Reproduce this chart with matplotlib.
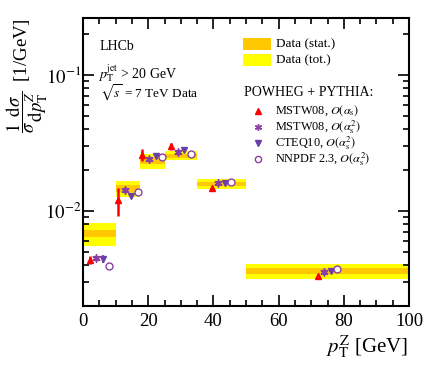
import matplotlib
matplotlib.use("Agg")
import matplotlib.pyplot as plt
import numpy as np
from matplotlib.patches import Rectangle
from matplotlib.lines import Line2D
from matplotlib.ticker import LogLocator, NullFormatter, MultipleLocator

plt.rcParams['font.family'] = ['Liberation Serif', 'DejaVu Serif']
plt.rcParams['mathtext.fontset'] = 'stix'

# ---- data ----
bin_edges = [0, 10, 17.5, 25, 35, 50, 100]
data_val = [0.0068, 0.0146, 0.0233, 0.0254, 0.0157, 0.0036]
data_stat = [0.0004, 0.0008, 0.0012, 0.0008, 0.0005, 0.00018]
data_tot = [0.0013, 0.0020, 0.0030, 0.0020, 0.0013, 0.00047]

mstw_as = [0.00436, 0.0119, 0.0258, 0.0297, 0.0147, 0.00334]
mstw_as_err = [0.0003, 0.0028, 0.0028, 0.0018, 0.0006, 0.00012]
mstw_as2 = [0.00449, 0.0141, 0.0240, 0.0268, 0.0161, 0.00358]
mstw_as2_err = [0.0002, 0.0004, 0.0006, 0.0006, 0.0004, 0.0001]
cteq = [0.00441, 0.0129, 0.0251, 0.0277, 0.0161, 0.00362]
cteq_err = [0.0003, 0.0004, 0.0006, 0.0006, 0.0004, 0.0001]
nnpdf = [0.00390, 0.0137, 0.0247, 0.0261, 0.0164, 0.00375]
nnpdf_err = [0.0001, 0.0003, 0.0004, 0.0004, 0.0003, 0.00008]

offsets = [-3, -1, 1, 3]

W, H = 432, 365
fig = plt.figure(figsize=(W / 100, H / 100), dpi=100)
ax = fig.add_axes([83 / W, 1 - 306 / H, (409 - 83) / W, (306 - 18) / H])

orange = '#FFC800'
yellow = '#FFFF00'
red = '#FF0000'
purple1 = '#8B3FA0'
purple2 = '#6A40A8'
purple3 = '#8A3FA8'

edges = np.array(bin_edges)
for i in range(len(data_val)):
    lo, hi = edges[i], edges[i + 1]
    ax.add_patch(Rectangle((lo, data_val[i] - data_tot[i]), hi - lo, 2 * data_tot[i],
                           facecolor=yellow, edgecolor='none', zorder=1))
    ax.add_patch(Rectangle((lo, data_val[i] - data_stat[i]), hi - lo, 2 * data_stat[i],
                           facecolor=orange, edgecolor='none', zorder=2))

centers = 0.5 * (edges[:-1] + edges[1:])

ax.errorbar(centers + offsets[0], mstw_as, yerr=mstw_as_err, fmt='^', color=red,
            ms=4.5, elinewidth=1.8, capsize=0, zorder=5)
ax.errorbar(centers + offsets[1], mstw_as2, yerr=mstw_as2_err, fmt='none', ecolor=purple1,
            elinewidth=1.2, capsize=0, zorder=5)
ax.plot(centers + offsets[1], mstw_as2, linestyle='none', marker=(6, 2, 0), ms=6,
        color=purple1, mew=1.0, zorder=6)
ax.plot(centers + offsets[1], mstw_as2, linestyle='none', marker='s', ms=2.5,
        color=purple1, zorder=6)
ax.errorbar(centers + offsets[2], cteq, yerr=cteq_err, fmt='v', color=purple2,
            ms=4.5, elinewidth=1.2, capsize=0, zorder=5)
ax.errorbar(centers + offsets[3], nnpdf, yerr=nnpdf_err, fmt='o', color=purple3,
            mfc='white', ms=5, mew=1.0, elinewidth=1.0, capsize=0, zorder=5)

ax.set_yscale('log')
ax.set_xlim(0, 100)
ax.set_ylim(0.002, 0.26)

ax.xaxis.set_major_locator(MultipleLocator(20))
ax.xaxis.set_minor_locator(MultipleLocator(5))
ax.yaxis.set_major_locator(LogLocator(base=10, numticks=10))
ax.yaxis.set_minor_locator(LogLocator(base=10, subs=np.arange(2, 10), numticks=10))
ax.yaxis.set_minor_formatter(NullFormatter())
ax.tick_params(which='both', direction='in', top=True, right=True, width=1.2,
               labelsize=13.5)
ax.tick_params(which='major', length=8)
ax.tick_params(which='minor', length=4)
ax.tick_params(axis='x', pad=5)
ax.tick_params(axis='y', pad=1)
for s in ax.spines.values():
    s.set_linewidth(1.5)

ax.set_yticks([0.01, 0.1])
ax.set_yticklabels(['$10^{-2}$', '$10^{-1}$'])

# axis labels
fig.text(408 / W, 1 - 347 / H, r'$p_{\rm T}^{\rm Z}$ [GeV]', ha='right', va='center', fontsize=15)
fig.text(27 / W, 1 - 18 / H, r'$\dfrac{1}{\sigma}\dfrac{\mathrm{d}\sigma}{\mathrm{d}p_{\rm T}^{Z}}$  [1/GeV]',
         ha='center', va='top', rotation=90, fontsize=13.5)

# labels
fig.text(100 / W, 1 - 46 / H, 'LHCb', ha='left', va='center', fontsize=10)
fig.text(98 / W, 1 - 73 / H, r'$p_{\rm T}^{\rm jet}$ > 20 GeV', ha='left', va='center', fontsize=10)
fig.text(100 / W, 1 - 93 / H, r'$\sqrt{s}$ = 7 TeV Data', ha='left', va='center', fontsize=9.5)

# legend
fig.patches.append(Rectangle((243 / W, 1 - 50 / H), 28 / W, 12 / H, transform=fig.transFigure,
                             facecolor=orange, edgecolor='none'))
fig.patches.append(Rectangle((243 / W, 1 - 66 / H), 28 / W, 12 / H, transform=fig.transFigure,
                             facecolor=yellow, edgecolor='none'))
fig.text(276 / W, 1 - 44 / H, 'Data (stat.)', ha='left', va='center', fontsize=9.5)
fig.text(276 / W, 1 - 60 / H, 'Data (tot.)', ha='left', va='center', fontsize=9.5)
fig.text(244 / W, 1 - 92 / H, 'POWHEG + PYTHIA:', ha='left', va='center', fontsize=10)

leg_labels = [r'MSTW08, $\mathit{O}(\alpha_{\rm s})$',
              r'MSTW08, $\mathit{O}(\alpha_{\rm s}^{2})$',
              r'CTEQ10, $\mathit{O}(\alpha_{\rm s}^{2})$',
              r'NNPDF 2.3, $\mathit{O}(\alpha_{\rm s}^{2})$']
leg_y = [111, 127, 143, 159]
mk = [dict(marker='^', color=red, ms=4),
      dict(marker=(6, 2, 0), color=purple1, ms=5, mew=1.0),
      dict(marker='v', color=purple2, ms=4),
      dict(marker='o', color=purple3, mfc='white', ms=4.5, mew=1.0)]
for lab, yy, m in zip(leg_labels, leg_y, mk):
    fig.lines.append(Line2D([258 / W], [1 - yy / H], transform=fig.transFigure,
                            linestyle='none', **m))
    if m['marker'] == (6, 2, 0):
        fig.lines.append(Line2D([258 / W], [1 - yy / H], transform=fig.transFigure,
                                linestyle='none', marker='s', ms=2, color=purple1))
    fig.text(275 / W, 1 - yy / H, lab, ha='left', va='center', fontsize=8.8)

fig.savefig('out.png', dpi=100)
